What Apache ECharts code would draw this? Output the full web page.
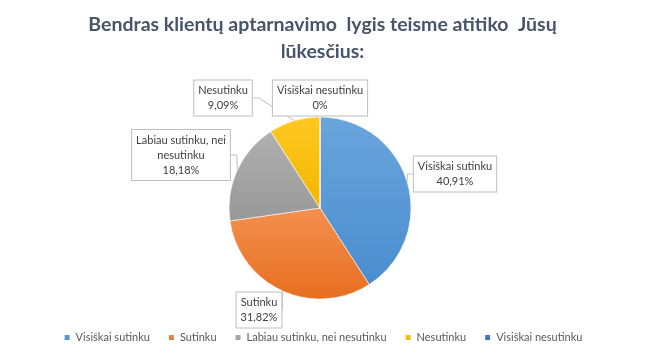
<!DOCTYPE html>
<html>
<head>
<meta charset="utf-8">
<script src="https://cdn.jsdelivr.net/npm/echarts@6/dist/echarts.min.js"></script>
<style>html,body{margin:0;padding:0;background:#fff}#c{width:645px;height:361px}</style>
</head>
<body>
<div id="c"></div>
<script>
const categories = ['Visiškai sutinku', 'Sutinku', 'Labiau sutinku, nei nesutinku', 'Nesutinku', 'Visiškai nesutinku'];
const values = [40.91, 31.82, 18.18, 9.09, 0];
const labelText = ['Visiškai sutinku', 'Sutinku', 'Labiau sutinku, nei\nnesutinku', 'Nesutinku', 'Visiškai nesutinku'];
const colorsTop = ['#6aa5dc', '#f4904f', '#b0b0b0', '#ffc822', '#4f7dcc'];
const colorsBottom = ['#4a8dcf', '#e66e1f', '#989898', '#f2b600', '#3e67b5'];
const labelPos = [[455, 174], [259, 310], [181, 155], [223, 98], [320, 98]];

const chart = echarts.init(document.getElementById('c'));
chart.setOption({
  backgroundColor: '#fff',
  animation: false,
  title: {
    text: 'Bendras klientų aptarnavimo  lygis teisme atitiko  Jūsų\nlūkesčius:',
    left: 'center',
    top: 6,
    textStyle: { fontFamily: 'Lato', fontWeight: 'bold', fontSize: 19.5, color: '#48546a', lineHeight: 27 }
  },
  legend: {
    bottom: 13,
    left: 'center',
    itemWidth: 7,
    itemHeight: 7,
    itemGap: 17,
    icon: 'rect',
    textStyle: { fontFamily: 'Lato', fontSize: 11, color: '#595959' },
    data: categories
  },
  series: [{
    type: 'pie',
    center: [320, 208],
    radius: 91,
    startAngle: 90,
    clockwise: true,
    avoidLabelOverlap: false,
    stillShowZeroSum: true,
    itemStyle: { borderColor: '#ffffff', borderWidth: 0.6 },
    data: categories.map((c, i) => ({
      name: c,
      value: values[i],
      itemStyle: {
        color: new echarts.graphic.LinearGradient(0, 0, 0, 1, [
          { offset: 0, color: colorsTop[i] },
          { offset: 1, color: colorsBottom[i] }
        ])
      },
      label: {
        formatter: labelText[i] + '\n' + values[i].toFixed(2).replace(/\.00$/, '').replace('.', ',') + '%'
      }
    })),
    label: {
      show: true,
      position: 'outside',
      fontFamily: 'Lato',
      fontSize: 11,
      lineHeight: 15,
      color: '#404040',
      align: 'center',
      backgroundColor: '#fff',
      borderColor: '#bfbfbf',
      borderWidth: 1,
      padding: [3, 4, 2, 4]
    },
    labelLine: {
      show: true,
      length: 10,
      length2: 6,
      lineStyle: { color: '#bfbfbf', width: 1 }
    },
    labelLayout: function (p) {
      const pos = labelPos[p.dataIndex];
      return { x: pos[0], y: pos[1], align: 'center', verticalAlign: 'middle' };
    }
  }]
});
</script>
</body>
</html>
